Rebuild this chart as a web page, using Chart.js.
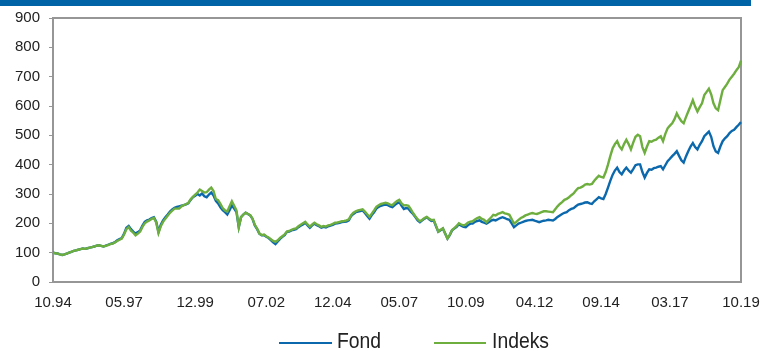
<!DOCTYPE html>
<html><head><meta charset="utf-8">
<script src="https://cdn.jsdelivr.net/npm/chart.js@4.4.1/dist/chart.umd.min.js"></script>
<style>
html,body{margin:0;padding:0;background:#fff;}
#wrap{position:relative;width:777px;height:351px;overflow:hidden;}
#bar{position:absolute;left:0;top:0;width:751px;height:6px;background:#0063A6;}
#c{position:absolute;left:0;top:0;}
.sw{position:absolute;height:1.5px;}
.lbl{position:absolute;font-family:"Liberation Sans",Arial,sans-serif;font-size:21.5px;line-height:21.5px;color:#222;transform:scaleX(0.9);transform-origin:left center;white-space:nowrap;}
</style></head>
<body>
<div id="wrap">
<div id="bar"></div>
<canvas id="c" width="777" height="351"></canvas>
<div class="sw" style="left:279px;top:342px;width:53px;background:#0B68AC;"></div>
<div class="lbl" style="left:337px;top:331px;">Fond</div>
<div class="sw" style="left:434px;top:342px;width:52px;background:#6DAE3F;"></div>
<div class="lbl" style="left:492px;top:331px;">Indeks</div>
</div>
<script>
// Monthly categories, Oct 1994 .. Oct 2019
const startYear = 1994, startMonth = 10, nMonths = 300;
const months = [];
for (let k = 0; k <= nMonths; k++) {
  const m = (startMonth - 1 + k) % 12 + 1;
  const y = startYear + Math.floor((startMonth - 1 + k) / 12);
  months.push(String(m).padStart(2, '0') + '.' + String(y % 100).padStart(2, '0'));
}
const tickLabels = ['10.94','05.97','12.99','07.02','12.04','05.07','10.09','04.12','09.14','03.17','10.19'];
const yTickValues = [0,100,200,300,400,500,600,700,800,900];

const fond = [
100,98,97,94,92,94,97,100,103,106,
108,110,112,114,113,115,117,119,121,124,
125,123,121,124,127,130,132,136,142,146,
150,165,185,191,180,172,165,170,176,192,
205,210,213,218,221,206,171,195,210,221,
230,240,247,253,256,258,260,262,265,268,
280,289,294,300,295,302,292,289,298,305,
295,277,268,255,245,238,230,245,261,250,
238,187,221,230,236,232,227,215,193,180,
165,159,160,154,150,143,135,129,138,147,
154,160,171,172,176,178,180,187,192,196,
202,193,185,193,199,194,190,185,188,186,
190,192,195,199,200,202,204,205,206,210,
225,232,238,240,242,244,235,225,216,228,
238,250,256,260,262,264,262,258,255,262,
268,272,260,249,252,250,240,232,221,210,
204,210,216,221,214,208,210,190,171,176,
182,165,148,160,176,182,188,197,192,188,
187,194,199,199,205,208,210,205,202,199,
204,209,212,210,214,218,221,218,214,212,
200,187,193,199,202,205,208,210,211,212,
209,207,204,207,209,210,212,211,210,215,
222,227,232,236,238,245,249,252,258,264,
266,268,271,272,268,266,275,282,289,285,
283,300,322,345,365,380,390,375,367,380,
390,380,373,385,398,401,401,375,356,372,
384,383,388,390,393,395,384,398,412,420,
429,437,446,430,415,407,428,446,462,474,
460,452,468,480,497,505,513,495,463,445,
440,462,480,490,497,508,515,519,528,536,545
];
const indeks = [
100,98,97,94,92,94,97,100,103,106,
108,110,112,114,113,115,117,119,121,124,
125,123,121,123,126,129,131,135,140,144,
148,162,180,187,175,168,159,165,172,188,
200,206,210,215,218,203,167,190,205,216,
226,236,243,250,250,250,258,262,265,270,
282,290,298,305,315,310,305,306,315,322,
310,283,279,266,252,244,240,258,275,260,
244,187,221,230,236,232,228,216,195,182,
165,160,162,156,152,146,140,137,142,150,
156,162,172,174,178,181,183,190,195,200,
205,196,189,196,202,197,193,188,191,189,
193,195,198,202,203,205,207,208,210,214,
228,236,241,244,246,248,240,231,222,233,
244,256,262,266,268,270,268,264,262,270,
276,280,268,261,262,260,248,235,224,214,
207,212,218,222,216,211,212,192,172,178,
183,165,148,161,177,184,191,200,196,193,
196,203,206,207,213,218,221,215,212,204,
212,220,229,227,232,235,238,234,232,229,
215,199,205,212,218,222,227,230,233,235,
233,232,235,238,241,241,240,239,238,248,
258,266,272,280,283,289,296,302,312,320,
322,326,332,334,332,334,345,354,362,358,
356,375,400,429,455,470,480,462,452,470,
485,470,452,475,495,502,497,460,440,462,
480,478,483,485,492,497,480,505,524,533,
541,555,575,560,548,541,562,581,600,620,
598,581,596,609,637,648,659,640,609,592,
586,620,654,665,676,690,700,710,722,732,755
];

const frame = {
  id: 'frame',
  beforeDatasetsDraw(chart) {
    const {ctx, chartArea: a} = chart;
    ctx.save();
    ctx.strokeStyle = '#969696';
    ctx.lineWidth = 2;
    ctx.strokeRect(a.left, a.top, a.right - a.left, a.bottom - a.top);
    ctx.restore();
  }
};

new Chart(document.getElementById('c'), {
  type: 'line',
  data: {
    labels: months,
    datasets: [
      {label: 'Fond', data: fond, borderColor: '#0B68AC', borderWidth: 2.4, pointRadius: 0, tension: 0, order: 1},
      {label: 'Indeks', data: indeks, borderColor: '#6DAE3F', borderWidth: 2.4, pointRadius: 0, tension: 0, order: 0}
    ]
  },
  options: {
    responsive: false,
    animation: false,
    devicePixelRatio: 1,
    layout: {padding: {top: 15, right: 36, bottom: 39, left: 0}},
    plugins: {legend: {display: false}, tooltip: {enabled: false}},
    scales: {
      x: {
        type: 'category',
        offset: false,
        grid: {display: false, drawTicks: false},
        border: {display: false},
        ticks: {
          autoSkip: false, maxRotation: 0, minRotation: 0, padding: 12,
          color: '#222',
          font: {family: '"Liberation Sans", Arial, sans-serif', size: 15},
          callback: function(v) { const l = this.getLabelForValue(v); return tickLabels.includes(l) ? l : null; }
        },
        afterFit: s => { s.height = 30; }
      },
      y: {
        min: 0, max: 900,
        afterBuildTicks: s => { s.ticks = yTickValues.map(v => ({value: v})); },
        grid: {display: true, drawOnChartArea: false, drawTicks: true, tickLength: 4, color: '#969696', lineWidth: 1},
        border: {display: false},
        ticks: {padding: 9, color: '#222', font: {family: '"Liberation Sans", Arial, sans-serif', size: 15}},
        afterFit: s => { s.width = 53; }
      }
    }
  },
  plugins: [frame]
});
</script>
</body></html>
